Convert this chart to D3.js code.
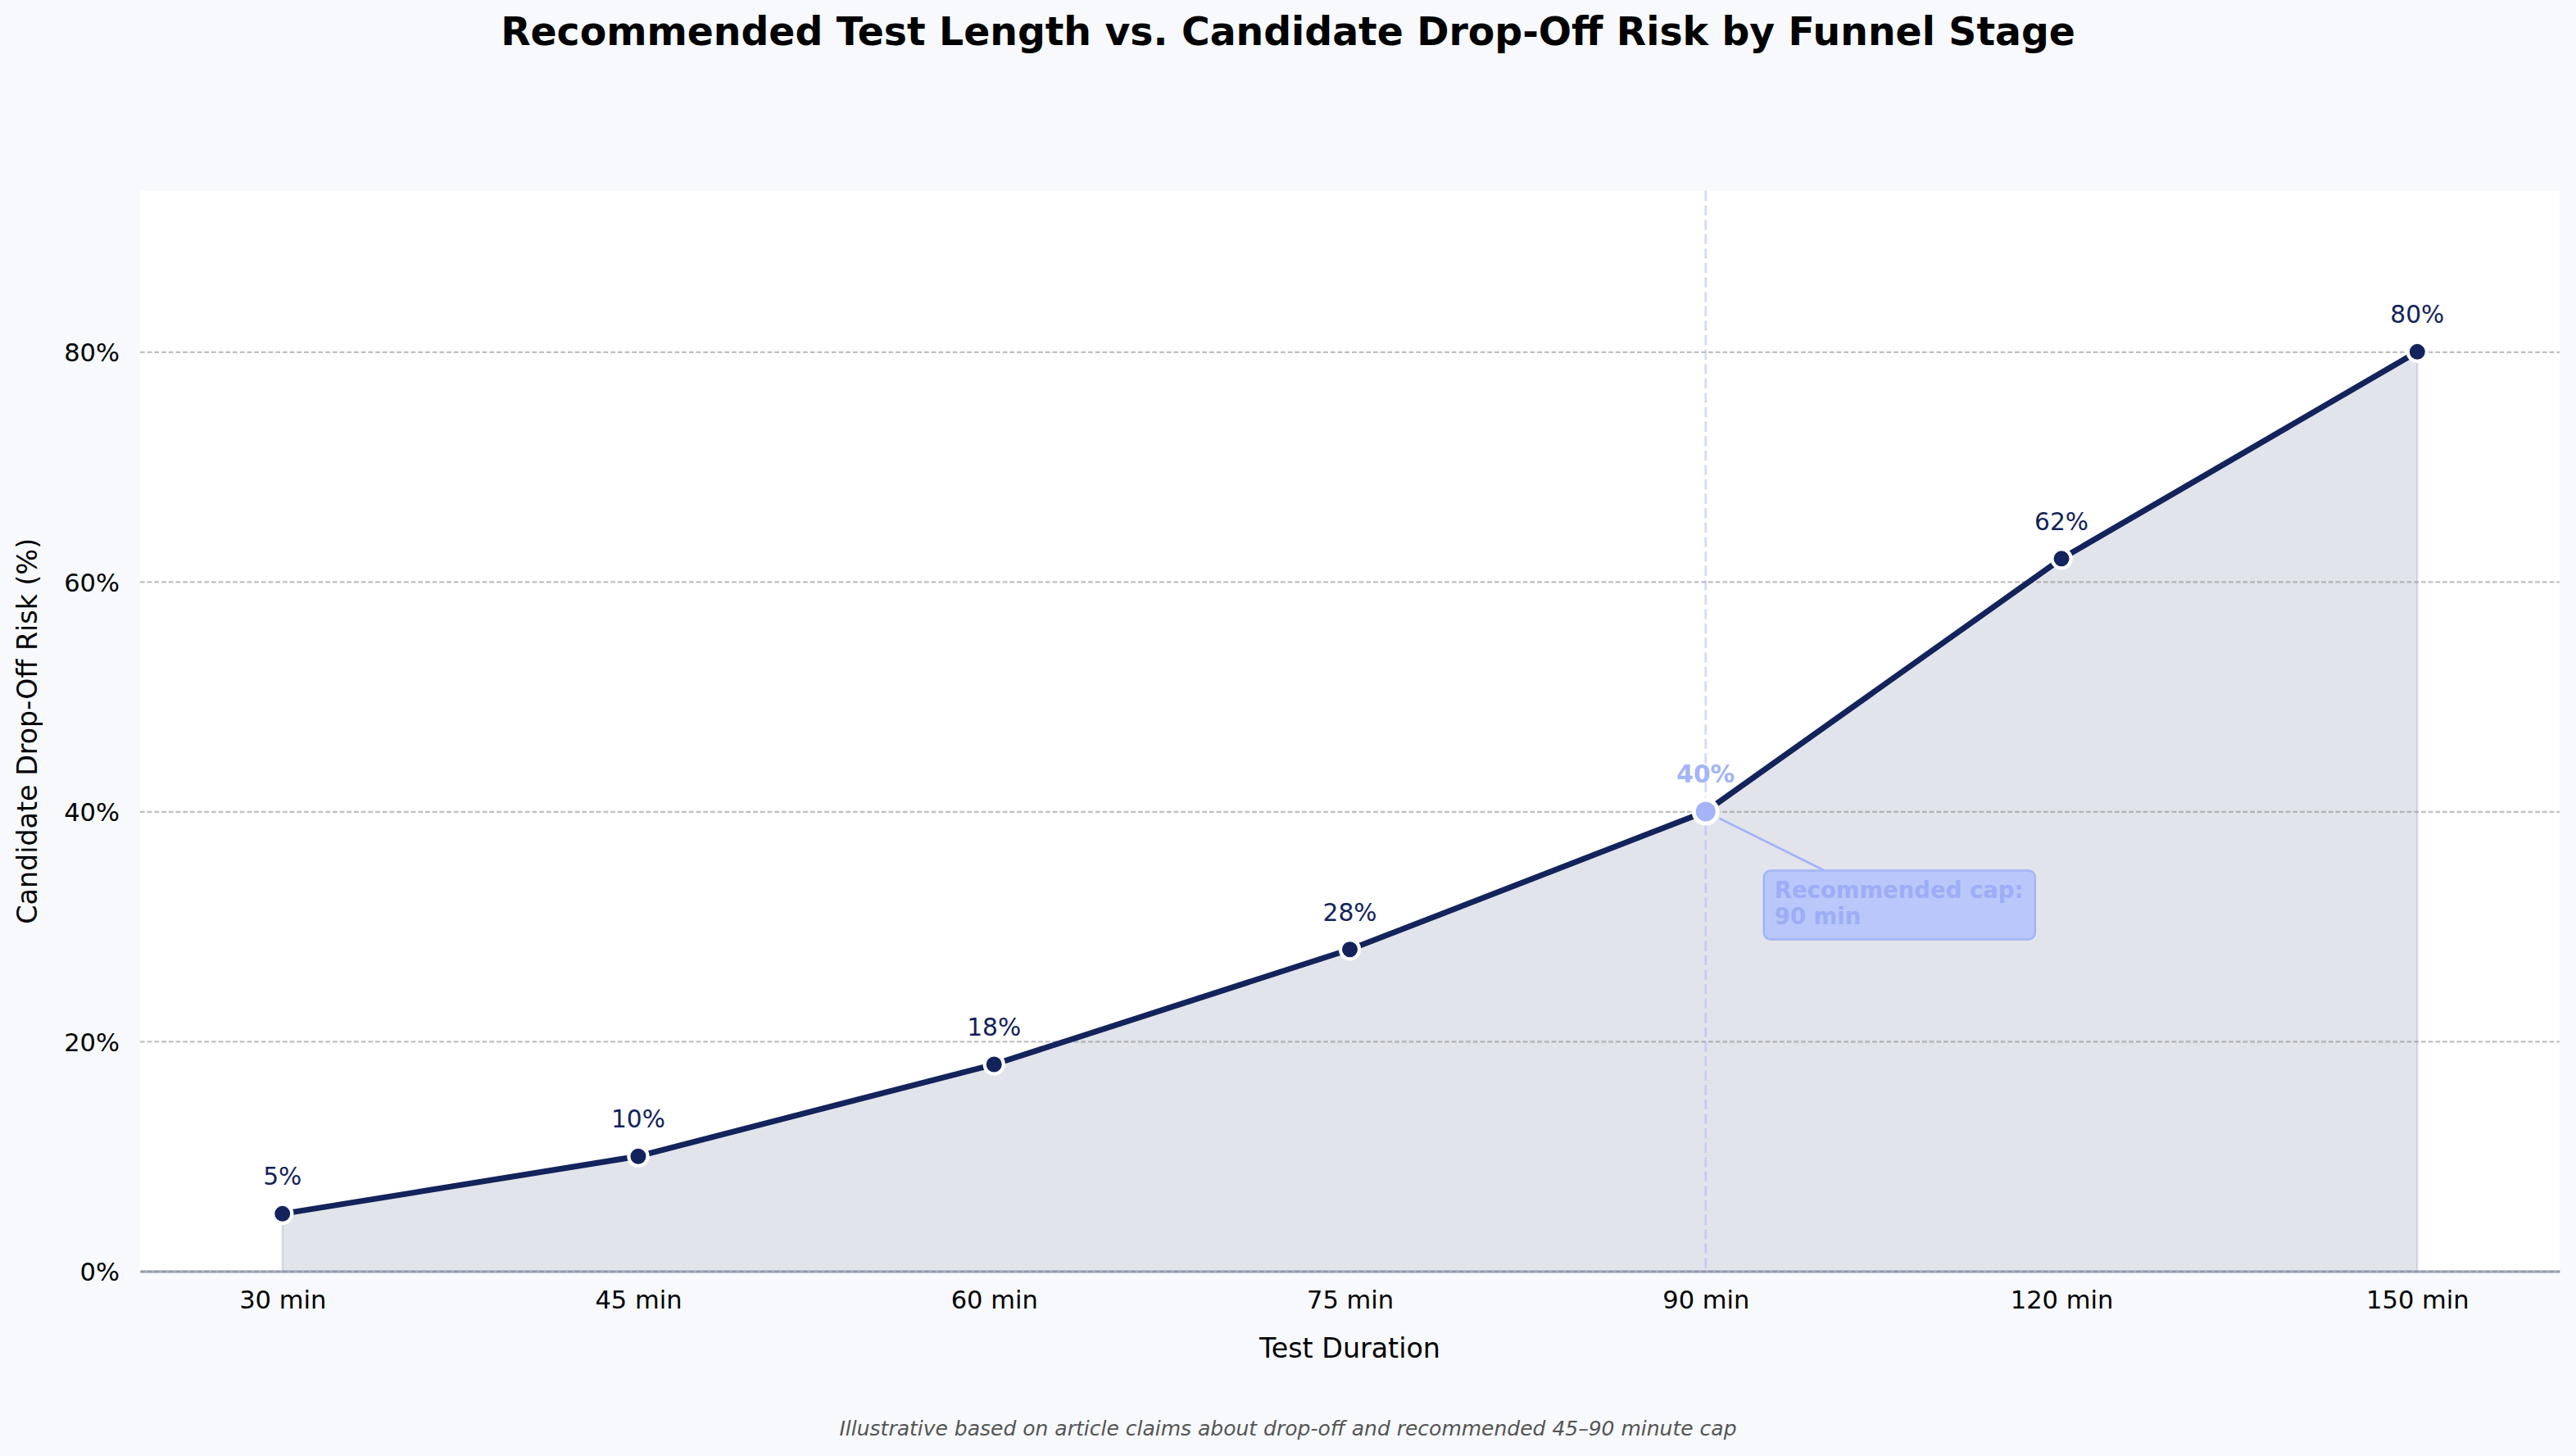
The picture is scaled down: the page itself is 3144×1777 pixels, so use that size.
<!DOCTYPE html>
<html lang="en">
<head>
    <meta charset="UTF-8">
    <title>Recommended Test Length vs. Candidate Drop-Off Risk by Funnel Stage</title>
    <script src="https://d3js.org/d3.v7.min.js"></script>
    <style>
        body { margin: 0; background: #f7f9fc; }
        svg { display: block; font-family: "DejaVu Sans", sans-serif; }
    </style>
</head>
<body>
    <div id="chart"></div>

    <script>
        // data
        const durations = ["30 min", "45 min", "60 min", "75 min", "90 min", "120 min", "150 min"];
        const dropOffRisk = [5, 10, 18, 28, 40, 62, 80];
        const yTicks = [0, 20, 40, 60, 80];
        const capDuration = "90 min";
        const capText = ["Recommended cap:", "90 min"];

        const W = 3144, H = 1777;
        const plot = { left: 171, right: 3124, top: 233, bottom: 1551.5 };

        const navy = "#13235b",
              capBlue = "#a3b4f8";

        const data = durations.map((d, i) => ({ label: d, i: i, value: dropOffRisk[i] }));
        const capIdx = durations.indexOf(capDuration);

        const x = d3.scaleLinear()
            .domain([-0.4, durations.length - 1 + 0.4])
            .range([plot.left, plot.right]);

        const y = d3.scaleLinear()
            .domain([0, 94])
            .range([plot.bottom, plot.top]);

        const svg = d3.select("#chart").append("svg")
            .attr("width", W)
            .attr("height", H);

        svg.append("rect")
            .attr("width", W).attr("height", H)
            .attr("fill", "#f7f9fc");

        svg.append("rect")
            .attr("x", plot.left).attr("y", plot.top)
            .attr("width", plot.right - plot.left)
            .attr("height", plot.bottom - plot.top)
            .attr("fill", "#ffffff");

        // shaded area under the curve
        const area = d3.area()
            .x(d => x(d.i))
            .y0(y(0))
            .y1(d => y(d.value));

        svg.append("path")
            .datum(data)
            .attr("d", area)
            .attr("fill", navy)
            .attr("fill-opacity", 0.12)
            .attr("stroke", navy)
            .attr("stroke-opacity", 0.12)
            .attr("stroke-width", 2.5);

        // x axis (bottom spine + labels)
        const xAxis = svg.append("g")
            .attr("transform", `translate(0,${plot.bottom})`)
            .call(d3.axisBottom(x)
                .tickValues(d3.range(durations.length))
                .tickFormat(i => durations[i])
                .tickSize(0)
                .tickSizeOuter(0)
                .tickPadding(23.8));
        xAxis.select(".domain")
            .attr("stroke", "#a9b0c8")
            .attr("stroke-width", 3.7);
        xAxis.selectAll("text")
            .attr("font-size", 30.5)
            .attr("fill", "#000")
            .attr("font-family", "DejaVu Sans, sans-serif");

        // y axis labels
        const yAxis = svg.append("g")
            .attr("transform", `translate(${plot.left},0)`)
            .call(d3.axisLeft(y)
                .tickValues(yTicks)
                .tickFormat(d => d + "%")
                .tickSize(0)
                .tickPadding(25));
        yAxis.select(".domain").remove();
        yAxis.selectAll("text")
            .attr("font-size", 30.5)
            .attr("dy", "0.365em")
            .attr("fill", "#000")
            .attr("font-family", "DejaVu Sans, sans-serif");

        // horizontal grid
        const grid = svg.append("g")
            .attr("transform", `translate(${plot.left},0)`)
            .call(d3.axisLeft(y)
                .tickValues(yTicks)
                .tickFormat("")
                .tickSize(-(plot.right - plot.left)));
        grid.select(".domain").remove();
        grid.selectAll("line")
            .attr("stroke", "#808080")
            .attr("stroke-opacity", 0.5)
            .attr("stroke-width", 2.2)
            .attr("stroke-dasharray", "5.7,3");

        // recommended cap marker line
        svg.append("line")
            .attr("x1", x(capIdx)).attr("x2", x(capIdx))
            .attr("y1", plot.top).attr("y2", plot.bottom)
            .attr("stroke", capBlue)
            .attr("stroke-opacity", 0.5)
            .attr("stroke-width", 2.7)
            .attr("stroke-dasharray", "12.3,5.3");

        // main line
        const line = d3.line()
            .x(d => x(d.i))
            .y(d => y(d.value));

        svg.append("path")
            .datum(data)
            .attr("d", line)
            .attr("fill", "none")
            .attr("stroke", navy)
            .attr("stroke-width", 7)
            .attr("stroke-linejoin", "round");

        svg.selectAll(".dot")
            .data(data)
            .enter()
            .append("circle")
            .attr("cx", d => x(d.i))
            .attr("cy", d => y(d.value))
            .attr("r", d => d.i === capIdx ? 14.5 : 11.6)
            .attr("fill", d => d.i === capIdx ? capBlue : navy)
            .attr("stroke", "#ffffff")
            .attr("stroke-width", d => d.i === capIdx ? 5 : 4.2);

        svg.selectAll(".val")
            .data(data)
            .enter()
            .append("text")
            .attr("x", d => x(d.i))
            .attr("y", d => y(d.value) - 35.2)
            .attr("text-anchor", "middle")
            .attr("font-size", 29.7)
            .attr("font-weight", d => d.i === capIdx ? "bold" : "normal")
            .attr("fill", d => d.i === capIdx ? capBlue : navy)
            .text(d => d.value + "%");

        // annotation for the cap
        const cx = x(capIdx), cy = y(dropOffRisk[capIdx]);
        const box = { x: cx + 71, y: cy + 72, w: 331, h: 84 };

        const tx = cx + 145, ty = box.y;
        const len = Math.hypot(tx - cx, ty - cy);
        svg.append("line")
            .attr("x1", cx + (tx - cx) / len * 19)
            .attr("y1", cy + (ty - cy) / len * 19)
            .attr("x2", tx).attr("y2", ty)
            .attr("stroke", capBlue)
            .attr("stroke-width", 2.8);

        svg.append("rect")
            .attr("x", box.x).attr("y", box.y)
            .attr("width", box.w).attr("height", box.h)
            .attr("rx", 8)
            .attr("fill", "#b9c7fa")
            .attr("stroke", capBlue)
            .attr("stroke-width", 2.5);

        svg.append("text")
            .attr("font-size", 27.5)
            .attr("font-weight", "bold")
            .attr("fill", "#9dadf6")
            .selectAll("tspan")
            .data(capText)
            .enter()
            .append("tspan")
            .attr("x", cx + 84)
            .attr("y", (d, i) => cy + 105.6 + i * 32)
            .text(d => d);

        // titles
        svg.append("text")
            .attr("x", W / 2).attr("y", 55)
            .attr("text-anchor", "middle")
            .attr("font-size", 47.3)
            .attr("font-weight", "bold")
            .attr("fill", "#000")
            .text("Recommended Test Length vs. Candidate Drop-Off Risk by Funnel Stage");

        svg.append("text")
            .attr("x", (plot.left + plot.right) / 2).attr("y", 1656.5)
            .attr("text-anchor", "middle")
            .attr("font-size", 33.3)
            .attr("fill", "#000")
            .text("Test Duration");

        svg.append("text")
            .attr("transform", `translate(45,${(plot.top + plot.bottom) / 2}) rotate(-90)`)
            .attr("text-anchor", "middle")
            .attr("font-size", 33.3)
            .attr("fill", "#000")
            .text("Candidate Drop-Off Risk (%)");

        svg.append("text")
            .attr("x", W / 2).attr("y", 1751.5)
            .attr("text-anchor", "middle")
            .attr("font-size", 25)
            .attr("font-style", "italic")
            .attr("fill", "#555555")
            .text("Illustrative based on article claims about drop-off and recommended 45–90 minute cap");
    </script>
</body>
</html>
